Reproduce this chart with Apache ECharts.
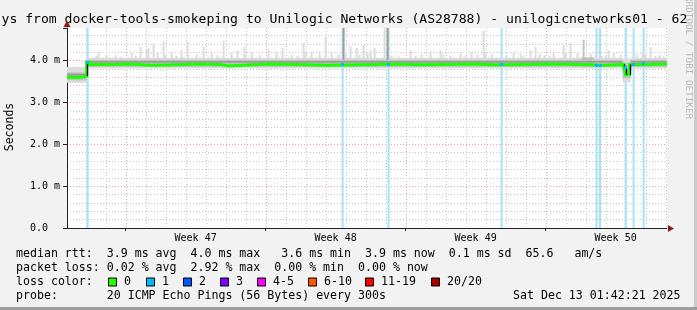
<!DOCTYPE html>
<html><head><meta charset="utf-8">
<script src="https://cdn.jsdelivr.net/npm/echarts@6/dist/echarts.min.js"></script>
<style>html,body{margin:0;padding:0;background:#f2f2f2;}#c{width:697px;height:310px;}</style>
</head><body><div id="c"></div>
<script>
// ---------- data ----------
const titleText = 'ys from docker-tools-smokeping to Unilogic Networks (AS28788) - unilogicnetworks01 - 62';
const yAxisName = 'Seconds';
// x in days relative to Sunday Nov 16 00:00
const xMin = -2.93, xMax = 27.07;
const yMin = 0, yMax = 4.78;            // milliseconds
const weekLabels = ['Week 47', 'Week 48', 'Week 49', 'Week 50'];
const weekLabelDays = [3.5, 10.5, 17.5, 24.5];
const weekStartDays = [0, 7, 14, 21];
const dayLineDays = [-2, -1, 1, 2, 3, 4, 5, 6, 8, 9, 10, 11, 12, 13, 15, 16, 17, 18, 19, 20, 22, 23, 24, 25, 26, 27];
const yTickLabels = {0: '0.0', 1: '1.0 m', 2: '2.0 m', 3: '3.0 m', 4: '4.0 m'};

// median RTT step points [day, ms]
const medianPts = [
  [-2.93, 3.60], [-2.4, 3.61], [-2.15, 3.63], [-1.95, 3.96], [-1.8, 3.91], [-0.6, 3.92], [0.2, 3.91],
  [0.7, 3.89], [1.3, 3.91], [2.9, 3.92], [3.6, 3.91], [4.75, 3.87], [5.15, 3.91], [6.5, 3.92],
  [7.3, 3.90], [9.2, 3.89], [10.0, 3.91], [12.5, 3.92], [13.2, 3.90], [14.8, 3.91], [16.0, 3.92],
  [17.2, 3.90], [18.5, 3.91], [20.0, 3.92], [21.2, 3.90], [23.3, 3.89], [23.9, 3.91], [24.9, 3.84],
  [25.0, 3.66], [25.2, 3.91], [26.0, 3.92], [27.07, 3.92]
];
// loss events [day, lost pings of 20, median at that time]
const lossPts = [
  [-1.9, 1, 3.95], [10.85, 1, 3.91], [13.15, 1, 3.91], [18.8, 1, 3.91], [23.55, 1, 3.89],
  [23.72, 1, 3.89], [25.0, 1, 3.84], [25.4, 1, 3.91], [25.9, 1, 3.92]
];
// smoke bands [dayFrom, dayTo, lowMs, highMs, shade]
const smokeBands = [
  [-2.93, -1.95, 3.47, 3.85, 0], [-1.95, 24.85, 3.81, 4.07, 0], [24.85, 25.25, 3.48, 4.05, 0], [25.25, 27.07, 3.81, 4.07, 0],
  [-2.93, -1.95, 3.53, 3.72, 1], [-1.95, 24.85, 3.85, 4.02, 1], [24.85, 25.25, 3.58, 3.95, 1], [25.25, 27.07, 3.85, 4.02, 1],
  [22.8, 23.4, 3.84, 4.08, 1],
  [-2.93, -1.95, 3.64, 3.69, 2], [-1.95, 24.85, 3.95, 3.99, 2], [25.25, 27.07, 3.95, 3.99, 2]
];
// smoke spikes [day, maxMs, shade]
const smokeSpikes = [
  [-1.6,4.08,0],[-1.45,4.12,0],[-1.35,4.20,0],[-0.95,4.12,0],[-0.5,4.14,0],[-0.2,4.10,0],[0.3,4.18,0],[0.5,4.12,0],
  [0.75,4.33,0],[1.05,4.25,0],[1.15,4.30,0],[1.4,4.41,0],[1.6,4.20,0],[1.9,4.46,0],[2.0,4.15,0],[2.3,4.20,0],
  [2.55,4.12,0],[2.8,4.25,0],[3.1,4.45,0],[3.55,4.15,0],[3.9,4.33,0],[4.3,4.18,0],[4.6,4.14,0],
  [4.9,4.48,0],[5.3,4.20,0],[5.6,4.25,0],[5.95,4.33,0],[6.0,4.12,0],[6.3,4.20,0],[6.7,4.15,0],
  [7.15,4.25,0],[7.55,4.20,0],[7.85,4.30,0],[8.3,4.15,0],[8.6,4.12,0],[8.9,4.42,0],[9.0,4.20,0],[9.3,4.20,0],
  [9.7,4.18,0],[10.0,4.57,0],[10.3,4.20,0],[10.65,4.15,0],[10.9,4.78,2],[11.0,4.20,0],[11.25,4.33,0],[11.55,4.30,0],
  [11.7,4.15,0],[11.9,4.38,0],[12.1,4.20,0],[12.25,4.25,0],[12.45,4.30,0],[12.95,4.78,0],[13.1,4.78,2],[13.3,4.12,0],
  [13.65,4.10,0],[14.25,4.24,0],[14.5,4.12,0],[14.8,4.15,0],[15.25,4.22,0],[15.75,4.25,0],[15.9,4.14,0],[16.25,4.12,0],
  [16.75,4.18,0],[17.0,4.12,0],[17.3,4.20,0],[17.6,4.15,0],[17.9,4.72,0],[18.0,4.20,0],[18.3,4.15,0],[19.05,4.12,0],
  [19.4,4.18,0],[19.75,4.16,0],[19.9,4.12,0],[20.25,4.25,0],[20.5,4.33,0],[20.7,4.15,0],[20.95,4.12,0],[21.2,4.12,0],
  [21.4,4.18,0],[21.9,4.38,0],[22.0,4.20,0],[22.25,4.42,0],[22.6,4.20,0],[22.9,4.50,1],[23.25,4.18,0],[23.5,4.15,0],
  [23.8,4.12,0],[24.0,4.12,0],[24.15,4.25,0],[24.4,4.20,0],[24.75,4.15,0],[25.55,4.15,0],[25.85,4.20,0],[26.0,4.15,0],
  [26.25,4.33,0],[26.5,4.12,0],[26.7,4.14,0],[26.9,4.10,0]
];
const legendLines = [
  'median rtt:  3.9 ms avg  4.0 ms max   3.6 ms min  3.9 ms now  0.1 ms sd  65.6   am/s',
  'packet loss: 0.02 % avg  2.92 % max  0.00 % min  0.00 % now',
  'loss color:',
  'probe:       20 ICMP Echo Pings (56 Bytes) every 300s'
];
const dateText = 'Sat Dec 13 01:42:21 2025';
const lossLegendLabels = ['0', '1', '2', '3', '4-5', '6-10', '11-19', '20/20'];
const lossLegendColors = ['#26ff00', '#00b8ff', '#0059ff', '#7e00ff', '#ff00ff', '#ff5500', '#ff0000', '#a10000'];
const watermark = 'RRDTOOL / TOBI OETIKER';

// ---------- style ----------
const MONO = '"DejaVu Sans Mono", monospace';
const shadeColors = ['#dcdcdc', '#c2c2c2', '#9c9c9c'];
const lossBarColor = '#a3e2f8';
const lossLineColor = '#00b8ff';
const medianColor = '#1aff00';
const gridGrey = '#c6c6c6', gridRed = '#f2a0a0';

const chart = echarts.init(document.getElementById('c'), null, {renderer: 'canvas'});

function clipToGrid(r, cs) {
  return echarts.graphic.clipRectByRect(r, {x: cs.x, y: cs.y, width: cs.width, height: cs.height});
}
function bandRender(params, api) {
  const a = api.coord([api.value(0), api.value(3)]), b = api.coord([api.value(1), api.value(2)]);
  return {type: 'rect', shape: clipToGrid({x: a[0], y: a[1], width: b[0] - a[0], height: b[1] - a[1]}, params.coordSys),
    style: {fill: shadeColors[api.value(4)]}};
}

// step connectors [day, previous ms, new ms]
const medianSteps = medianPts.slice(1).map((p, i) => [p[0], medianPts[i][1], p[1]]);

const legendX = [108, 146, 183, 220, 257, 308, 365, 431];
const graphics = [];
graphics.push({type: 'rect', shape: {x: 0, y: 307, width: 697, height: 3}, style: {fill: '#9d9d9d'}, silent: true});
graphics.push({type: 'rect', shape: {x: 694, y: 0, width: 3, height: 307}, style: {fill: '#cbcbcb'}, silent: true});
graphics.push({type: 'text', x: 688, y: -4, rotation: -Math.PI / 2,
  style: {text: watermark, font: '9.3px ' + MONO, fill: '#b9b9b9', textAlign: 'left', textVerticalAlign: 'middle'}});
graphics.push({type: 'text', x: 1.5, y: 19.5,
  style: {text: titleText, font: '13.1px ' + MONO, fill: '#000', textAlign: 'left', textVerticalAlign: 'middle'}});
graphics.push({type: 'text', x: 10, y: 127, rotation: Math.PI / 2,
  style: {text: yAxisName, font: '11.5px ' + MONO, fill: '#000', textAlign: 'center', textVerticalAlign: 'middle'}});
const lineY = [254, 268, 282, 296];
legendLines.forEach((t, i) => graphics.push({type: 'text', x: 16, y: lineY[i],
  style: {text: t, font: '11.6px ' + MONO, fill: '#000', textAlign: 'left', textVerticalAlign: 'middle'}}));
graphics.push({type: 'text', x: 513, y: 296,
  style: {text: dateText, font: '11.6px ' + MONO, fill: '#000', textAlign: 'left', textVerticalAlign: 'middle'}});
lossLegendLabels.forEach((l, i) => {
  graphics.push({type: 'rect', shape: {x: legendX[i] + 0.5, y: 278, width: 8, height: 8},
    style: {fill: lossLegendColors[i], stroke: '#000', lineWidth: 1}});
  graphics.push({type: 'text', x: legendX[i] + 16, y: 282,
    style: {text: l, font: '11.6px ' + MONO, fill: '#000', textAlign: 'left', textVerticalAlign: 'middle'}});
});
// axis arrows
graphics.push({type: 'polygon', shape: {points: [[668, 225], [674, 228.5], [668, 232]]}, style: {fill: '#8e1a1a'}});
graphics.push({type: 'polygon', shape: {points: [[63.5, 27], [67, 20.5], [70.5, 27]]}, style: {fill: '#8e1a1a'}});

const option = {
  animation: false,
  backgroundColor: '#f2f2f2',
  grid: {left: 67, top: 28, width: 600, height: 200, show: true, backgroundColor: '#ffffff', borderWidth: 0,
    containLabel: false, outerBoundsMode: 'none'},
  xAxis: {
    type: 'value', min: xMin, max: xMax,
    axisLine: {show: true, lineStyle: {color: '#222', width: 1}},
    axisTick: {show: true, customValues: weekStartDays, length: 3, lineStyle: {color: '#222'}},
    axisLabel: {show: true, customValues: weekLabelDays, margin: 5,
      formatter: v => { const i = weekLabelDays.findIndex(d => Math.abs(d - v) < 1e-6); return i >= 0 ? weekLabels[i] : ''; },
      fontFamily: MONO, fontSize: 10, color: '#000'},
    splitLine: {show: false}
  },
  yAxis: [
    {type: 'value', position: 'left', min: yMin, max: yMax, interval: 0.2,
      axisLine: {show: false}, axisTick: {show: false}, axisLabel: {show: false},
      splitLine: {show: true, showMinLine: false, showMaxLine: false, lineStyle: {color: gridGrey, type: [1, 2], width: 1}}},
    {type: 'value', position: 'left', offset: 0, min: yMin, max: yMax, interval: 1,
      axisLine: {show: true, onZero: false, lineStyle: {color: '#222', width: 1}},
      axisTick: {show: true, length: 4, lineStyle: {color: '#222'}},
      axisLabel: {show: true, align: 'left', margin: 37, fontFamily: MONO, fontSize: 10, color: '#000',
        formatter: v => { const k = Math.round(v); return Math.abs(v - k) < 1e-6 && yTickLabels[k] !== undefined ? yTickLabels[k] : ''; }},
      splitLine: {show: true, showMinLine: false, showMaxLine: false, lineStyle: {color: gridRed, type: [1, 2], width: 1}}}
  ],
  graphic: graphics,
  series: [
    { // vertical day / week grid
      type: 'custom', z: 1, silent: true, clip: true,
      data: dayLineDays.map(d => [d, 0]).concat(weekStartDays.map(d => [d, 1])),
      encode: {x: 0},
      renderItem: (params, api) => {
        const cs = params.coordSys; const x = Math.round(api.coord([api.value(0), 0])[0]) + 0.5;
        return {type: 'line', shape: {x1: x, y1: cs.y, x2: x, y2: cs.y + cs.height},
          style: {stroke: api.value(1) ? gridRed : gridGrey, lineWidth: 1, lineDash: [1, 2]}};
      }
    },
    { // loss bars
      type: 'custom', z: 2, silent: true,
      data: lossPts, encode: {x: 0},
      renderItem: (params, api) => {
        const cs = params.coordSys; const x = api.coord([api.value(0), 0])[0];
        return {type: 'rect', shape: clipToGrid({x: x - 1, y: cs.y, width: 2, height: cs.height}, cs), style: {fill: lossBarColor}};
      }
    },
    { // smoke bands, light
      type: 'custom', z: 3, silent: true,
      data: smokeBands.filter(b => b[4] === 0), encode: {x: [0, 1], y: [2, 3]},
      renderItem: bandRender
    },
    { // smoke spikes
      type: 'custom', z: 4, silent: true,
      data: smokeSpikes, encode: {x: 0, y: 1},
      renderItem: (params, api) => {
        const a = api.coord([api.value(0), api.value(1)]), b = api.coord([api.value(0), 4.0]);
        return {type: 'rect', shape: clipToGrid({x: a[0] - 1, y: a[1], width: 2, height: b[1] - a[1]}, params.coordSys),
          style: {fill: shadeColors[api.value(2)]}};
      }
    },
    { // smoke bands, medium
      type: 'custom', z: 5, silent: true,
      data: smokeBands.filter(b => b[4] === 1), encode: {x: [0, 1], y: [2, 3]},
      renderItem: bandRender
    },
    { // smoke bands, dense
      type: 'custom', z: 6, silent: true,
      data: smokeBands.filter(b => b[4] === 2), encode: {x: [0, 1], y: [2, 3]},
      renderItem: bandRender
    },
    { // median line
      type: 'line', z: 20, silent: true, step: 'end', showSymbol: false, symbol: 'none',
      data: medianPts, lineStyle: {color: medianColor, width: 3, cap: 'butt', join: 'miter'}
    },
    { // black step connectors
      type: 'custom', z: 21, silent: true,
      data: medianSteps, encode: {x: 0, y: [1, 2]},
      renderItem: (params, api) => {
        const a = api.coord([api.value(0), api.value(1)]), b = api.coord([api.value(0), api.value(2)]);
        if (Math.abs(a[1] - b[1]) < 2.5) return null;
        const x = Math.round(a[0]) + 0.5;
        return {type: 'line', shape: {x1: x, y1: a[1], x2: x, y2: b[1]}, style: {stroke: '#000', lineWidth: 1.3}};
      }
    },
    { // loss colour on median
      type: 'custom', z: 22, silent: true,
      data: lossPts, encode: {x: 0, y: 2},
      renderItem: (params, api) => {
        const a = api.coord([api.value(0), api.value(2)]);
        return {type: 'rect', shape: {x: Math.round(a[0] - 1.5), y: Math.round(a[1] - 1.5), width: 3, height: 3}, style: {fill: lossLineColor}};
      }
    }
  ]
};
chart.setOption(option);
</script>
</body></html>
